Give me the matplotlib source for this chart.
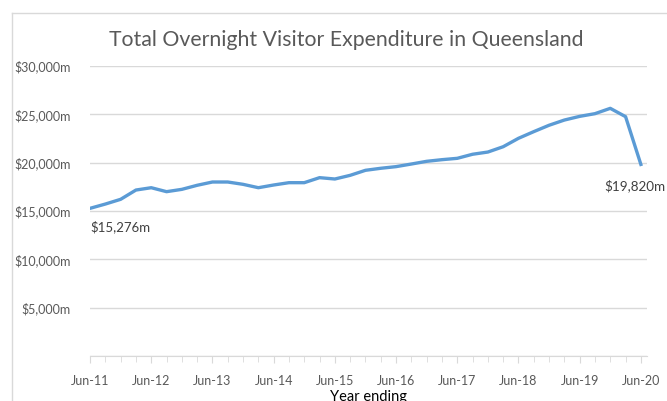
import matplotlib.pyplot as plt
from matplotlib.lines import Line2D
from matplotlib.ticker import FuncFormatter, MultipleLocator

plt.rcParams['font.family'] = ['Lato', 'DejaVu Sans']

# quarterly expenditure ($m), year ending Jun-11 .. Jun-20
expenditure = [15276, 15720, 16210, 17170, 17410, 17000, 17240, 17660, 18000,
               18000, 17760, 17410, 17690, 17930, 17930, 18450, 18310, 18690,
               19210, 19420, 19590, 19860, 20140, 20310, 20450, 20870, 21100,
               21650, 22520, 23210, 23870, 24410, 24790, 25070, 25620, 24760,
               19820]
year_labels = ["Jun-11", "Jun-12", "Jun-13", "Jun-14", "Jun-15",
               "Jun-16", "Jun-17", "Jun-18", "Jun-19", "Jun-20"]

grey = "#595959"
x = list(range(len(expenditure)))

fig = plt.figure(figsize=(6.67, 4.01), dpi=100)
ax = fig.add_axes([0.135, 0.1122, 0.835, 0.7232])

ax.plot(x, expenditure, color="#5B9BD5", lw=2.4, solid_joinstyle="round")

ax.set_ylim(0, 30000)
ax.set_xlim(0, 36.4)
ax.yaxis.set_major_locator(MultipleLocator(5000))
ax.yaxis.set_major_formatter(FuncFormatter(lambda v, p: "" if v == 0 else f"${v:,.0f}m"))
ax.grid(axis="y", color="#D9D9D9", lw=1)
ax.set_axisbelow(True)

ax.set_xticks(range(0, 37, 4))
ax.set_xticklabels(year_labels)
ax.set_xticks(range(0, 37), minor=True)

for s in ["top", "right", "left"]:
    ax.spines[s].set_visible(False)
ax.spines["bottom"].set_color("#D9D9D9")
ax.tick_params(axis="y", length=0, pad=14, labelsize=9, labelcolor=grey)
ax.tick_params(axis="x", which="major", length=5, color="#D9D9D9", pad=9,
               labelsize=9, labelcolor=grey)
ax.tick_params(axis="x", which="minor", length=4, color="#D9D9D9")

ax.set_xlabel("Year ending", fontsize=10.5, color="black", labelpad=2)

ax.annotate(f"${expenditure[0]:,}m", (x[0], expenditure[0]), xytext=(0, -13),
            textcoords="offset points", ha="left", va="center",
            fontsize=9.5, color="#404040")
ax.annotate(f"${expenditure[-1]:,}m", (x[-1], expenditure[-1]), xytext=(-26, -15),
            textcoords="offset points", ha="left", va="center",
            fontsize=9.7, color="#404040")

fig.text(0.519, 0.900, "Total Overnight Visitor Expenditure in Queensland",
         ha="center", va="center", fontsize=15.3, color=grey)

# chart-area border (top and left edges visible)
fig.add_artist(Line2D([12 / 667, 1], [1 - 13 / 401] * 2, color="#D9D9D9", lw=1))
fig.add_artist(Line2D([12 / 667] * 2, [0, 1 - 13 / 401], color="#D9D9D9", lw=1))

fig.savefig("out.png", dpi=100)
